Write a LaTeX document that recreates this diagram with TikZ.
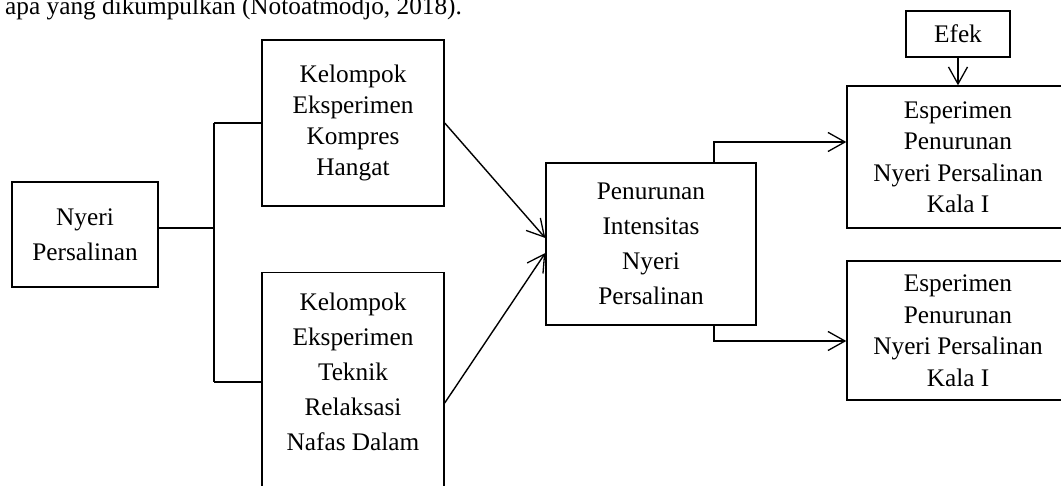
\documentclass[tikz,border=0pt]{standalone}
\usepackage{fontspec}
\setmainfont{Liberation Serif}
\usetikzlibrary{arrows.meta}
\begin{document}
\begin{tikzpicture}[x=1pt,y=-1pt,
  box/.style={draw,line width=1.4pt,inner sep=0pt,align=center},
  conn/.style={line width=1.4pt},
  arr/.style={conn,-{Straight Barb[length=17pt,width=19pt,line width=1.3pt]}},
  txt/.style={inner sep=0pt,align=center}]
\useasboundingbox (0,0) rectangle (1061,486);
\clip (0,0) rectangle (1061,486);
\node[anchor=base west,inner sep=0pt,font=\fontsize{25.3}{30}\selectfont] (top) at (5,15) {apa yang dikumpulkan (Notoatmodjo, 2018).};
\node[box,minimum width=146pt,minimum height=105pt,font=\fontsize{25.3}{35}\selectfont] (nyeri) at (85,234.5) {Nyeri\\Persalinan};
\node[box,minimum width=182pt,minimum height=166pt,font=\fontsize{25.3}{30.7}\selectfont] (k1) at (353,123) {Kelompok\\Eksperimen\\Kompres\\Hangat};
\node[box,minimum width=182pt,minimum height=240pt,anchor=north] (k2) at (353,272) {};
\node[txt,font=\fontsize{25.3}{35}\selectfont] (k2t) at (353,372) {Kelompok\\Eksperimen\\Teknik\\Relaksasi\\Nafas Dalam};
\node[box,minimum width=210pt,minimum height=162pt,font=\fontsize{25.3}{35}\selectfont] (pen) at (651,244) {Penurunan\\Intensitas\\Nyeri\\Persalinan};
\node[box,minimum width=222pt,minimum height=142pt,font=\fontsize{25.3}{31.5}\selectfont] (e1) at (958,157) {Esperimen\\Penurunan\\Nyeri Persalinan\\Kala I};
\node[box,minimum width=222pt,minimum height=139pt,font=\fontsize{25.3}{31.5}\selectfont] (e2) at (958,330.5) {Esperimen\\Penurunan\\Nyeri Persalinan\\Kala I};
\node[box,minimum width=104pt,minimum height=46pt,font=\fontsize{25.3}{30}\selectfont] (efek) at (958,34) {Efek};
\coordinate (j) at (214,228);
\coordinate (jt) at (214,123);
\coordinate (jb) at (214,382);
\draw[conn] (nyeri.east |- j) -- (j);
\draw[conn] (jt) -- (jb);
\draw[conn] (jt) -- (k1.west |- jt);
\draw[conn] (jb) -- (k2.west |- jb);
\coordinate (p1) at (714,142);
\coordinate (p2) at (714,341);
\draw[arr] (k1.east) -- (pen.west |- 0,238);
\draw[arr] (k2.east |- 0,403) -- (pen.west |- 0,253);
\draw[arr] (pen.north -| p1) -- (p1) -- (e1.west |- p1);
\draw[arr] (pen.south -| p2) -- (p2) -- (e2.west |- p2);
\draw[arr] (efek.south) -- (e1.north);
\end{tikzpicture}
\end{document}
